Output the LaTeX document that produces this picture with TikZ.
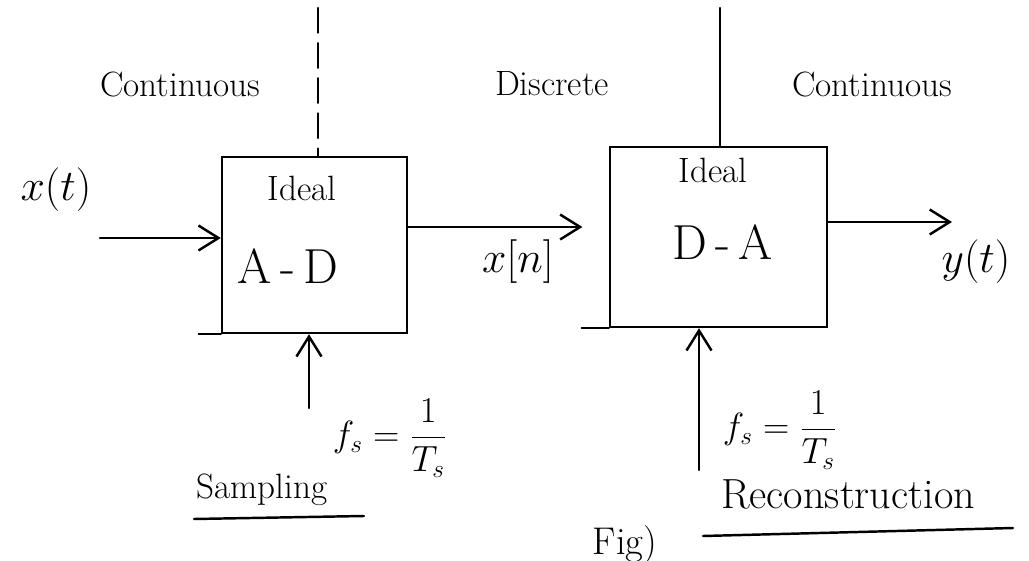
\documentclass[tikz,border=0pt]{standalone}
\usetikzlibrary{arrows.meta}
\begin{document}
\begin{tikzpicture}[x=0.02cm,y=-0.02cm,
  ln/.style={line width=1.4pt, line cap=round},
  arr/.style={ln, -{Straight Barb[length=4mm,width=5mm,line width=1.4pt]}},
  blk/.style={ln, draw, inner sep=0pt},
  lab/.style={font=\fontsize{20}{24}\selectfont},
  big/.style={font=\fontsize{28}{32}\selectfont},
  sig/.style={font=\fontsize{26}{30}\selectfont},
  mid/.style={font=\fontsize{20}{24}\selectfont},
  eq/.style={font=\fontsize{22}{26}\selectfont}]
\useasboundingbox (0,0) rectangle (1029,561);
% blocks
\node[blk, minimum width=3.7cm, minimum height=3.52cm] (ad) at (314.5,245) {};
\node[blk, minimum width=4.34cm, minimum height=3.6cm] (da) at (718.5,237) {};
\draw[ln] (ad.south west) -- ++(-22,0);
\draw[ln] (da.south west) -- ++(-27,0);
% block texts
\node[mid] (adi) at (302,188) {Ideal};
\node[big] (adt) at (288,266) {A\,-\,D};
\node[mid] (dai) at (713,170) {Ideal};
\node[big] (dat) at (723,242) {D\,-\,A};
% region labels
\node[lab] (c1) at (180,84) {Continuous};
\node[lab] (d1) at (552,84) {Discrete};
\node[lab] (c2) at (872,84) {Continuous};
% separators
\coordinate (s1) at (318,8);
\coordinate (s2) at (720,8);
\draw[ln, dashed, dash pattern=on 14pt off 6pt] (s1) -- (s1 |- ad.north);
\draw[ln] (s2) -- (s2 |- da.north);
% signals
\node[sig] (xt) at (56,190) {$x(t)$};
\coordinate (in1) at (100,238);
\draw[arr] (in1) -- (in1 -| ad.west);
\coordinate (xnl) at (0,227);
\draw[arr, shorten >=15pt] (ad.east |- xnl) -- (da.west |- xnl);
\node[sig] (xn) at (518,262) {$x[n]$};
\coordinate (yo) at (952,222);
\draw[arr] (da.east |- yo) -- (yo);
\node[sig] (yt) at (976,262) {$y(t)$};
% clocks
\coordinate (f1) at (309,408);
\draw[arr] (f1) -- (f1 |- ad.south);
\node[eq] (fs1) at (390,438) {$\displaystyle f_s=\frac{1}{T_s}$};
\coordinate (f2) at (699,470);
\draw[arr] (f2) -- (f2 |- da.south);
\node[eq] (fs2) at (780,430) {$\displaystyle f_s=\frac{1}{T_s}$};
% captions
\node[mid] (smp) at (262,490) {Sampling};
\draw[ln] (194,519) -- (364,516);
\node[font=\fontsize{24}{28}\selectfont] (rec) at (848,494) {Reconstruction};
\draw[ln] (703,536) -- (1013,528);
\node[font=\fontsize{22}{26}\selectfont] (fig) at (625,545) {Fig)};
\end{tikzpicture}
\end{document}
